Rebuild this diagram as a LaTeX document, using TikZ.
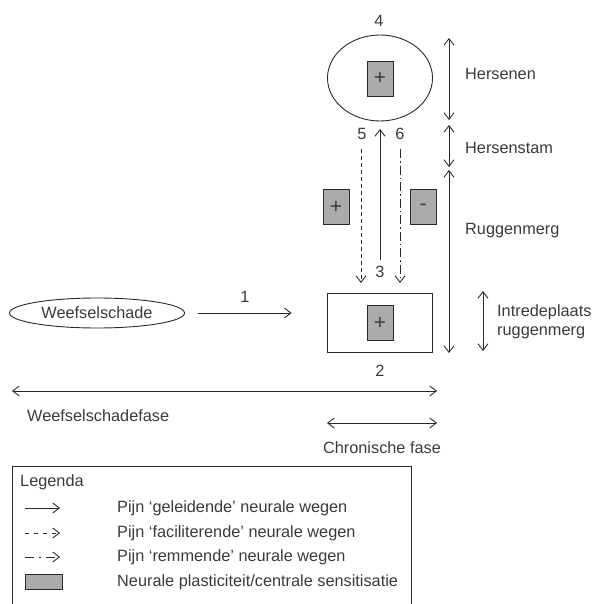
\documentclass[tikz,border=0pt]{standalone}
\usepackage{fontspec}
\setmainfont{Liberation Sans}
\usetikzlibrary{arrows.meta,shapes.geometric}
\definecolor{ink}{HTML}{2A2A2A}
\definecolor{txt}{HTML}{3A3A3A}
\definecolor{plast}{HTML}{ABABAB}
\begin{document}
\begin{tikzpicture}[x=1pt,y=-1pt,
  font=\fontsize{16.3}{19}\selectfont,
  every node/.style={text=txt},
  line/.style={draw=ink, line width=0.9pt},
  tip/.tip={Straight Barb[length=6.5pt,width=10pt,line width=0.9pt]},
  arr/.style={line, -tip},
  darr/.style={line, tip-tip},
  dashline/.style={dash pattern=on 4pt off 3pt},
  dotline/.style={dash pattern=on 9pt off 3pt on 1.5pt off 3pt},
  plastbox/.style={draw=ink, line width=0.9pt, fill=plast, minimum width=26pt, minimum height=35pt, inner sep=0pt, font=\fontsize{21}{21}\selectfont},
  lbl/.style={anchor=west, inner sep=0pt}]
\useasboundingbox (0,0) rectangle (593,604);

% brain
\node[ellipse, line, minimum width=105pt, minimum height=86pt, inner sep=0pt] (brain) at (380,78) {};
\node[plastbox] (pb) at (380,78.5) {+};
\node (n4) at (379,21) {4};

% dorsal horn
\node[rectangle, line, minimum width=105pt, minimum height=59pt, inner sep=0pt] (dh) at (379.5,322.5) {};
\node[plastbox] (pd) at (380,323) {+};
\node (n2) at (380,371) {2};

% side boxes
\node[plastbox] (pl) at (336,207) {+};
\node[plastbox] (pr) at (423,207) {-};

% vertical pathways
\coordinate (u0) at (380,260);
\coordinate (u1) at (380,129);
\draw[arr] (u0) -- (u1);
\coordinate (d5a) at (361,149);
\coordinate (d5b) at (361,283);
\draw[arr, dashline] (d5a) -- (d5b);
\coordinate (d6a) at (400,149);
\coordinate (d6b) at (400,283);
\draw[arr, dotline] (d6a) -- (d6b);
\node (n5) at (362,134) {5};
\node (n6) at (400,134) {6};
\node (n3) at (380,272) {3};

% tissue damage
\node[ellipse, line, minimum width=175pt, minimum height=30pt, inner sep=0pt] (ws) at (97,313) {Weefselschade};
\coordinate (a1) at ([xshift=13pt]ws.east);
\coordinate (a2) at ([xshift=-35pt]dh.west |- ws.east);
\draw[arr] (a1) -- (a2);
\node (n1) at (245,297) {1};

% right-hand scale
\coordinate (h0) at (449,38);  \coordinate (h1) at (449,120);
\coordinate (s0) at (449,125); \coordinate (s1) at (449,167);
\coordinate (r0) at (449,170); \coordinate (r1) at (449,353);
\coordinate (i0) at (483,291); \coordinate (i1) at (483,351);
\draw[darr] (h0) -- (h1);
\draw[darr] (s0) -- (s1);
\draw[darr] (r0) -- (r1);
\draw[darr] (i0) -- (i1);
\node[lbl] (tH) at (465,74) {Hersenen};
\node[lbl] (tS) at (465,148) {Hersenstam};
\node[lbl] (tR) at (465,231) {Ruggenmerg};
\node[lbl, align=left] (tI) at (497,322) {Intredeplaats\\ruggenmerg};

% phases
\coordinate (w0) at (12,391);  \coordinate (w1) at (437,391);
\draw[darr] (w0) -- (w1);
\node[lbl] (tW) at (27,416) {Weefselschadefase};
\coordinate (c0) at (327,423); \coordinate (c1) at (437,423);
\draw[darr] (c0) -- (c1);
\node (tC) at (382,448) {Chronische fase};

% legend
\draw[line] (12,610) -- (12,466) -- (411,466) -- (411,610);
\node[lbl] (leg) at (20,482) {Legenda};
\coordinate (l1a) at (25,508); \coordinate (l1b) at (60,508);
\draw[arr] (l1a) -- (l1b);
\node[lbl] (lt1) at (117,508) {Pijn ‘geleidende’ neurale wegen};
\coordinate (l2a) at (25,533); \coordinate (l2b) at (60,533);
\draw[arr, dash pattern=on 4pt off 5pt] (l2a) -- (l2b);
\node[lbl] (lt2) at (117,533) {Pijn ‘faciliterende’ neurale wegen};
\coordinate (l3a) at (25,557); \coordinate (l3b) at (60,557);
\draw[arr, dash pattern=on 9pt off 5pt on 2pt off 5pt] (l3a) -- (l3b);
\node[lbl] (lt3) at (117,557) {Pijn ‘remmende’ neurale wegen};
\node[draw=ink, line width=0.9pt, fill=plast, minimum width=37pt, minimum height=15pt, inner sep=0pt] (lbox) at (43.5,582) {};
\node[lbl] (lt4) at (117,582) {Neurale plasticiteit/centrale sensitisatie};
\end{tikzpicture}
\end{document}
